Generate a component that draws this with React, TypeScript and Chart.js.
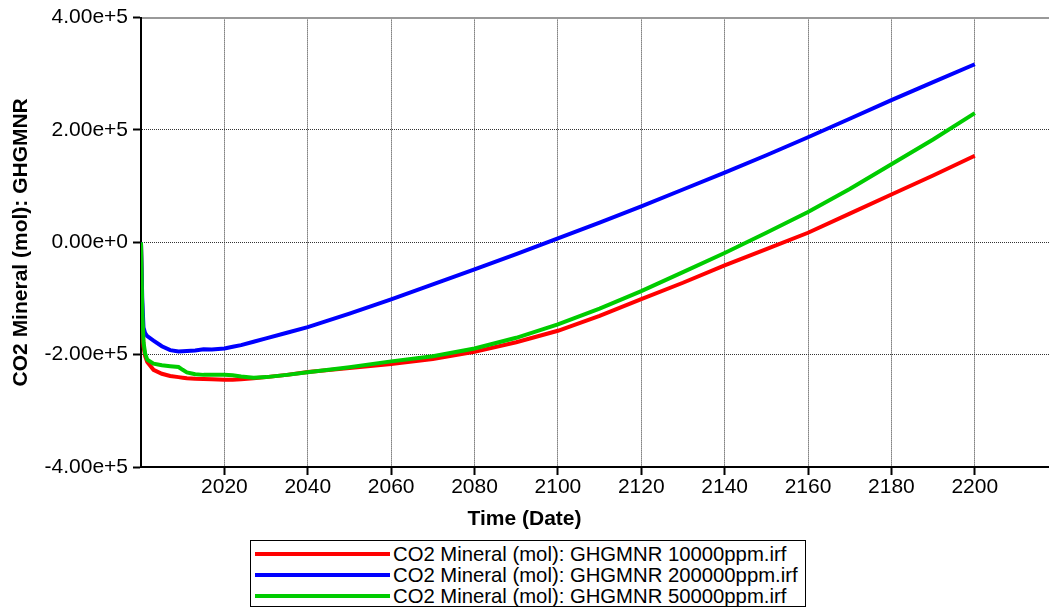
import React, { useEffect, useRef } from "react";
import { Chart, registerables } from "chart.js";

Chart.register(...registerables);

const FONT = "'Liberation Sans', Arial, sans-serif";

const years = [
  2000, 2000.3, 2000.6, 2001, 2001.5, 2003, 2005, 2007, 2009, 2010, 2011, 2013, 2015, 2017,
  2020, 2022, 2024, 2027, 2030, 2035, 2040, 2050, 2060, 2070, 2080, 2090, 2100, 2110, 2120,
  2130, 2140, 2150, 2160, 2170, 2180, 2190, 2200,
];

const red10000 = [
  0, -130000, -185000, -203000, -213000, -227000, -234000, -238000, -240000, -241000, -242000,
  -243000, -243500, -244000, -244500, -244500, -244000, -242000, -240000, -236000, -231000,
  -224000, -216500, -208000, -195000, -178000, -157500, -131000, -101000, -72000, -41000,
  -12000, 17000, 51000, 85000, 119000, 154000,
];

const blue200000 = [
  0, -100000, -152000, -162000, -167000, -175000, -185000, -192000, -194500, -194000, -193500,
  -192500, -190500, -191000, -189000, -186000, -183000, -177000, -171000, -161000, -151000,
  -127000, -101500, -75000, -48000, -21000, 7000, 35000, 64000, 94000, 124000, 155000, 187000,
  220000, 253000, 285000, 317000,
];

const green50000 = [
  0, -120000, -178000, -198000, -209000, -216000, -219000, -220500, -222000, -227000, -231500,
  -235000, -236000, -236000, -236000, -236500, -239000, -241000, -240000, -236000, -231500,
  -222500, -212000, -203000, -189000, -170000, -146000, -118000, -87000, -53000, -19000, 17000,
  54000, 95000, 139000, 183000, 230000,
];

const seriesLabels = [
  "CO2 Mineral (mol): GHGMNR 10000ppm.irf",
  "CO2 Mineral (mol): GHGMNR 200000ppm.irf",
  "CO2 Mineral (mol): GHGMNR 50000ppm.irf",
];
const seriesColors = ["#ff0000", "#0000ff", "#00cc00"];
const seriesValues = [red10000, blue200000, green50000];
const seriesOrder = [2, 1, 0];

const xTickValues = [2020, 2040, 2060, 2080, 2100, 2120, 2140, 2160, 2180, 2200];
const yTickValues = [-400000, -200000, 0, 200000, 400000];

export default function App() {
  const canvasRef = useRef<HTMLCanvasElement | null>(null);

  useEffect(() => {
    const canvas = canvasRef.current;
    if (!canvas) return;
    const chart = new Chart(canvas, {
      type: "line",
      data: {
        datasets: seriesValues.map((vals, i) => ({
          label: seriesLabels[i],
          data: vals.map((v, j) => ({ x: years[j], y: v })),
          borderColor: seriesColors[i],
          backgroundColor: seriesColors[i],
          borderWidth: 4,
          pointRadius: 0,
          tension: 0,
          fill: false,
          order: seriesOrder[i],
        })),
      },
      options: {
        animation: false,
        responsive: false,
        maintainAspectRatio: false,
        devicePixelRatio: 1,
        layout: { padding: 0 },
        plugins: {
          legend: { display: false },
          tooltip: { enabled: false },
          title: {
            display: true,
            position: "bottom",
            text: "Time (Date)",
            color: "#000",
            font: { family: FONT, size: 21, weight: "bold" },
            padding: { top: 0, bottom: 78.4 },
          },
        },
        scales: {
          x: {
            type: "linear",
            position: "bottom",
            min: 2000,
            max: 2217.8,
            afterBuildTicks: (s: any) => {
              s.ticks = xTickValues.map((v) => ({ value: v }));
            },
            afterFit: (s: any) => {
              s.height = 39.4;
            },
            ticks: {
              autoSkip: false,
              maxRotation: 0,
              color: "#000",
              padding: 0,
              font: { family: FONT, size: 21 },
              callback: (v: any) => String(v),
            },
            grid: {
              color: "#333",
              lineWidth: 1,
              tickLength: 8,
              tickColor: "#000",
              tickWidth: 2,
            },
            border: { display: true, color: "#000", width: 2, dash: [1, 1] },
          },
          xTop: {
            type: "linear",
            position: "top",
            min: 2000,
            max: 2217.8,
            ticks: { display: false },
            grid: { display: false, drawTicks: false },
            border: { display: true, color: "#999", width: 2 },
            afterFit: (s: any) => {
              s.height = 15;
            },
          },
          y: {
            type: "linear",
            position: "left",
            min: -400000,
            max: 400000,
            afterBuildTicks: (s: any) => {
              s.ticks = yTickValues.map((v) => ({ value: v }));
            },
            afterFit: (s: any) => {
              s.width = 141;
            },
            ticks: {
              color: "#000",
              padding: 5,
              font: { family: FONT, size: 21 },
              callback: (v: any) => Number(v).toExponential(2),
            },
            grid: {
              color: (ctx: any) =>
                ctx.tick && ctx.tick.value === 400000 ? "rgba(0,0,0,0)" : "#333",
              lineWidth: 1,
              tickLength: 8,
              tickColor: "#000",
              tickWidth: 2,
            },
            border: { display: true, color: "#000", width: 2, dash: [1, 1] },
            title: {
              display: true,
              text: "CO2 Mineral (mol): GHGMNR",
              color: "#000",
              font: { family: FONT, size: 21, weight: "bold" },
              padding: { top: 9, bottom: 0 },
            },
          },
        },
      } as any,
    });
    return () => chart.destroy();
  }, []);

  const rowCenters = [553, 574, 595];
  const boxLeft = 250;
  const boxTop = 540;

  return (
    <div style={{ position: "fixed", left: 0, top: 0, width: 1049, height: 610, background: "#fff" }}>
      <canvas ref={canvasRef} width={1049} height={610} style={{ display: "block", width: 1049, height: 610 }} />
      <div
        style={{
          position: "absolute",
          left: boxLeft,
          top: boxTop,
          width: 556,
          height: 67,
          border: "1px solid #000",
          boxSizing: "border-box",
          background: "#fff",
        }}
      >
        {seriesLabels.map((label, i) => (
          <React.Fragment key={label}>
            <div
              style={{
                position: "absolute",
                left: 4,
                top: rowCenters[i] - boxTop - 2,
                width: 135,
                height: 4,
                background: seriesColors[i],
              }}
            />
            <div
              style={{
                position: "absolute",
                left: 142,
                top: rowCenters[i] - boxTop - 11,
                height: 22,
                lineHeight: "22px",
                fontFamily: FONT,
                fontSize: 20.3,
                color: "#000",
                whiteSpace: "nowrap",
              }}
            >
              {label}
            </div>
          </React.Fragment>
        ))}
      </div>
    </div>
  );
}
